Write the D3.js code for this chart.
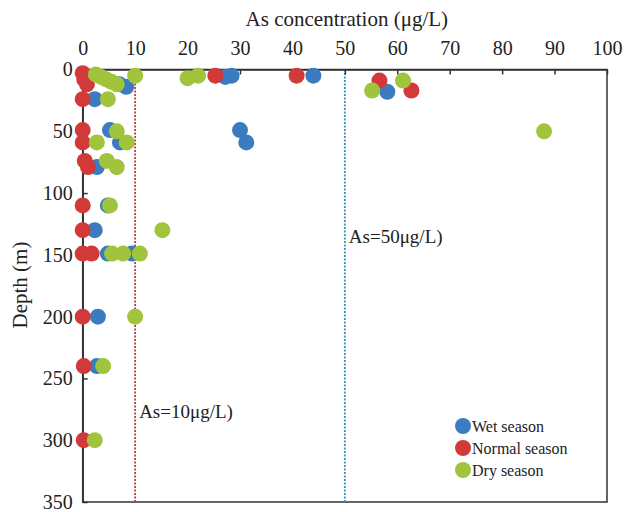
<!DOCTYPE html>
<html>
<head>
<meta charset="utf-8">
<script src="https://cdn.jsdelivr.net/npm/d3@7"></script>
<style>
  body { margin: 0; background: #fff; }
  text { font-family: "Liberation Serif", "Times New Roman", serif; fill: #222; }
</style>
</head>
<body>
<script>
// As concentration (ug/L) vs depth (m), three seasons

var wetConc   = [7, 8.3, 27.2, 28.4, 44, 58.1, 2.3, 5.2, 7.1, 30, 31.2, 2.7, 4.8, 2.3, 4.8, 9.4, 2.9, 2.7];
var wetDepth  = [12, 14, 6, 5, 5, 18, 24, 49, 59, 49, 59, 79, 110, 130, 149, 149, 200, 240];

var normalConc  = [0, 0.3, 0.8, 25.3, 40.8, 56.6, 62.7, 0, 0, 0, 0.4, 1, 0, 0, 0, 1.7, 0, 0.2, 0.2];
var normalDepth = [3, 8, 12, 5, 5, 9, 17, 24, 49, 59, 74, 79, 110, 130, 149, 149, 200, 240, 300];

var dryConc  = [2.5, 3.5, 4.5, 5.5, 6.5, 10, 20, 22, 55.2, 61.1, 88, 4.8, 6.5, 2.7, 8.4, 4.6, 6.5, 5.2, 15.2, 5.6, 7.7, 10.9, 10, 3.9, 2.3];
var dryDepth = [4, 6, 8, 10, 12, 5, 7, 5, 17, 9, 50, 24, 50, 59, 59, 74, 79, 110, 130, 149, 149, 149, 200, 240, 300];

var xTicks = [0, 10, 20, 30, 40, 50, 60, 70, 80, 90, 100];
var yTicks = [0, 50, 100, 150, 200, 250, 300, 350];
var limits = [10, 50];
var limitLabels = ["As=10\u03bcg/L)", "As=50\u03bcg/L)"];
var seasons = ["Wet season", "Normal season", "Dry season"];
var colors = ["#3b7cc0", "#d23a3a", "#a0c43c"];

var width = 627, height = 512;
var mLeft = 82.7, mRight = 607, mTop = 69.5, mBottom = 502;

var svg = d3.select("body").append("svg").attr("width", width).attr("height", height);

var x = d3.scaleLinear().domain([0, 100]).range([mLeft, mRight]);
var y = d3.scaleLinear().domain([0, 350]).range([mTop, mBottom]);

// frame
svg.append("rect")
  .attr("x", mLeft).attr("y", mTop)
  .attr("width", mRight - mLeft).attr("height", mBottom - mTop)
  .attr("fill", "none").attr("stroke", "#333").attr("stroke-width", 1.5);

// limit lines
var limitColors = ["#c0393b", "#3b8fc0"];
limits.forEach(function (v, i) {
  svg.append("line")
    .attr("x1", x(v)).attr("x2", x(v))
    .attr("y1", mTop).attr("y2", mBottom)
    .attr("stroke", limitColors[i]).attr("stroke-width", 1.8)
    .attr("stroke-dasharray", "2,1.5");
});
svg.append("text").attr("x", x(10) + 4).attr("y", 418).attr("font-size", 19).text(limitLabels[0]);
svg.append("text").attr("x", x(50) + 4).attr("y", 243).attr("font-size", 19).text(limitLabels[1]);

// axes
var xAxis = svg.append("g").attr("transform", "translate(0," + mTop + ")")
  .call(d3.axisTop(x).tickValues(xTicks).tickSizeInner(-5).tickSizeOuter(0).tickPadding(15));
var yAxis = svg.append("g").attr("transform", "translate(" + mLeft + ",0)")
  .call(d3.axisLeft(y).tickValues(yTicks).tickSizeInner(-5).tickSizeOuter(0).tickPadding(10));
[xAxis, yAxis].forEach(function (g) {
  g.select(".domain").attr("stroke", "#333").attr("stroke-width", 1.5);
  g.selectAll(".tick line").attr("stroke", "#333").attr("stroke-width", 1.5);
  g.selectAll(".tick text").attr("font-family", "Liberation Serif").attr("font-size", 20).attr("fill", "#222");
});

svg.append("text").attr("x", (mLeft + mRight) / 2 + 2).attr("y", 26)
  .attr("text-anchor", "middle").attr("font-size", 21).text("As concentration (\u03bcg/L)");
svg.append("text").attr("transform", "translate(27," + 285 + ") rotate(-90)")
  .attr("text-anchor", "middle").attr("font-size", 21).text("Depth (m)");

// points
var series = [
  { conc: wetConc, depth: wetDepth },
  { conc: normalConc, depth: normalDepth },
  { conc: dryConc, depth: dryDepth }
];
series.forEach(function (s, k) {
  svg.append("g").selectAll("circle")
    .data(s.conc)
    .enter().append("circle")
    .attr("cx", function (d) { return x(d); })
    .attr("cy", function (d, i) { return y(s.depth[i]); })
    .attr("r", 8)
    .attr("fill", colors[k]);
});

// legend
var legend = svg.append("g").attr("transform", "translate(463,426)");
seasons.forEach(function (name, i) {
  legend.append("circle").attr("cx", 0).attr("cy", i * 22).attr("r", 8).attr("fill", colors[i]);
  legend.append("text").attr("x", 9).attr("y", i * 22 + 5.5).attr("font-size", 16).text(name);
});
</script>
</body>
</html>
